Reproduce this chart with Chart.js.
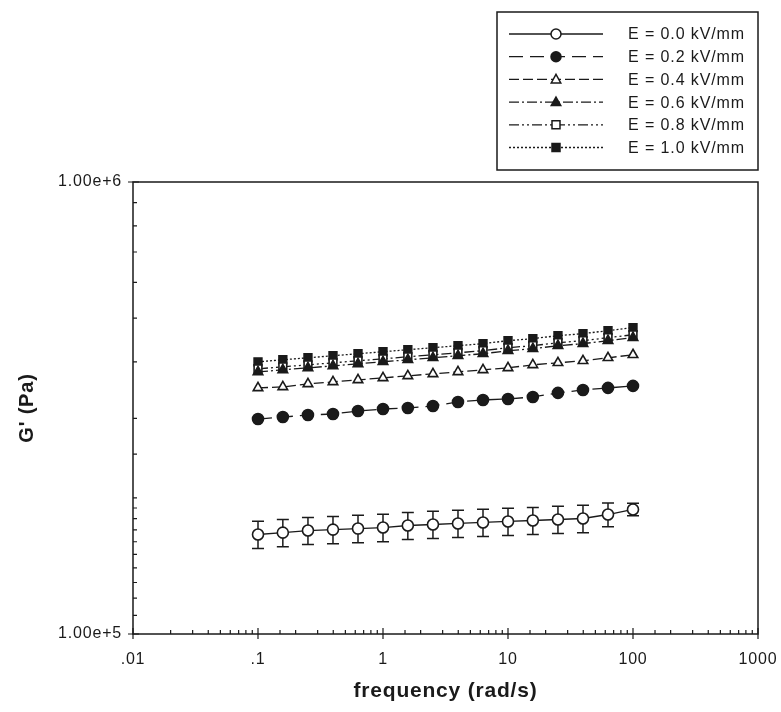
<!DOCTYPE html>
<html>
<head>
<meta charset="utf-8">
<script src="https://cdn.jsdelivr.net/npm/chart.js"></script>
<style>
  html, body { margin: 0; padding: 0; background: #fff; }
  #wrap { width: 781px; height: 712px; }
</style>
</head>
<body>
<div id="wrap"><canvas id="chart" width="781" height="712"></canvas></div>
<script>
// frequency (rad/s)
const freq = [0.1, 0.158, 0.251, 0.398, 0.631, 1, 1.58, 2.51, 3.98, 6.31, 10, 15.8, 25.1, 39.8, 63.1, 100];

// G' (Pa) per field strength
const gE00 = [166000, 167600, 169400, 170200, 171100, 172000, 173800, 174700, 175600, 176500, 177400, 178300, 179200, 180100, 183800, 188600];
const gE00err = [11500, 11600, 11700, 11800, 11900, 12000, 12000, 12100, 12200, 12200, 12300, 12300, 12400, 12500, 11000, 6000];
const gE02 = [298900, 302000, 305100, 306700, 311400, 314600, 316200, 319500, 326100, 329500, 331100, 334500, 341500, 346700, 350300, 353900];
const gE04 = [350300, 352100, 357500, 361200, 364900, 368700, 372500, 376300, 380200, 384100, 388000, 394000, 398100, 402200, 408400, 414800];
const gE06 = [380200, 384100, 388000, 392000, 396000, 400100, 404300, 408400, 412700, 416900, 423400, 427700, 434400, 438800, 445600, 452500];
const gE08 = [386100, 390000, 394000, 398100, 402200, 406300, 410500, 414800, 419000, 423400, 429900, 434400, 441000, 445600, 452500, 459300];
const gE10 = [400100, 404300, 408400, 412700, 416900, 421200, 425600, 429900, 434400, 438800, 445600, 450200, 457100, 461800, 469000, 476200];

const seriesLabels = ["E = 0.0 kV/mm", "E = 0.2 kV/mm", "E = 0.4 kV/mm", "E = 0.6 kV/mm", "E = 0.8 kV/mm", "E = 1.0 kV/mm"];
const xTickLabels = { "0.01": ".01", "0.1": ".1", "1": "1", "10": "10", "100": "100", "1000": "1000" };
const yTickLabels = { "100000": "1.00e+5", "1000000": "1.00e+6" };

const INK = "#1a1a1a";
const FONT = "'Liberation Sans', Arial, sans-serif";

function pts(ys) { return freq.map((f, i) => ({ x: f, y: ys[i] })); }

function isDecade(v) {
  const l = Math.log10(v);
  return Math.abs(l - Math.round(l)) < 1e-6;
}

const styles = [
  { pointStyle: "circle", fill: false, dash: [] },
  { pointStyle: "circle", fill: true, dash: [14, 7] },
  { pointStyle: "triangle", fill: false, dash: [10, 4] },
  { pointStyle: "triangle", fill: true, dash: [10, 3, 2, 3] },
  { pointStyle: "rect", fill: false, dash: [10, 3, 2, 3, 2, 3] },
  { pointStyle: "rect", fill: true, dash: [2, 2] }
];
const allSeries = [gE00, gE02, gE04, gE06, gE08, gE10];

const datasets = allSeries.map((ys, i) => ({
  label: seriesLabels[i],
  data: pts(ys),
  borderColor: INK,
  borderWidth: 1.3,
  borderDash: styles[i].dash,
  pointStyle: styles[i].pointStyle,
  pointRadius: 5.5,
  pointBorderWidth: 1.6,
  pointBorderColor: INK,
  pointBackgroundColor: styles[i].fill ? INK : "#fff",
  errors: i === 0 ? gE00err : null,
  tension: 0
}));

function drawMarker(ctx, style, filled, x, y, r) {
  ctx.save();
  ctx.setLineDash([]);
  ctx.lineWidth = 1.5;
  ctx.strokeStyle = INK;
  ctx.fillStyle = filled ? INK : "#fff";
  ctx.beginPath();
  if (style === "circle") {
    ctx.arc(x, y, r, 0, Math.PI * 2);
  } else if (style === "triangle") {
    ctx.moveTo(x, y - r);
    ctx.lineTo(x + r * 0.95, y + r * 0.7);
    ctx.lineTo(x - r * 0.95, y + r * 0.7);
    ctx.closePath();
  } else {
    ctx.rect(x - r * 0.8, y - r * 0.8, r * 1.6, r * 1.6);
  }
  ctx.fill();
  ctx.stroke();
  ctx.restore();
}

// slightly wider letter spacing, like the scanned original
const spacing = {
  id: "spacing",
  beforeDraw(chart) { chart.ctx.letterSpacing = "0.8px"; }
};

// error bars for the 0 kV/mm series
const errorBars = {
  id: "errorBars",
  beforeDatasetsDraw(chart) {
    const ctx = chart.ctx;
    const xs = chart.scales.x, ys = chart.scales.y;
    chart.data.datasets.forEach((ds) => {
      if (!ds.errors) return;
      ctx.save();
      ctx.strokeStyle = INK;
      ctx.lineWidth = 1.5;
      ds.data.forEach((p, i) => {
        const e = ds.errors[i];
        const px = xs.getPixelForValue(p.x);
        const top = ys.getPixelForValue(p.y + e);
        const bot = ys.getPixelForValue(p.y - e);
        ctx.beginPath();
        ctx.moveTo(px, top); ctx.lineTo(px, bot);
        ctx.moveTo(px - 6, top); ctx.lineTo(px + 6, top);
        ctx.moveTo(px - 6, bot); ctx.lineTo(px + 6, bot);
        ctx.stroke();
      });
      ctx.restore();
    });
  }
};

// frame and inward ticks
const frame = {
  id: "frame",
  afterDraw(chart) {
    const ctx = chart.ctx;
    const a = chart.chartArea;
    const xs = chart.scales.x, ys = chart.scales.y;
    ctx.save();
    ctx.strokeStyle = INK;
    ctx.lineWidth = 1.5;
    ctx.strokeRect(a.left, a.top, a.right - a.left, a.bottom - a.top);
    ctx.lineWidth = 1.2;
    ctx.beginPath();
    xs.ticks.forEach((t) => {
      const px = xs.getPixelForValue(t.value);
      if (isDecade(t.value)) {
        ctx.moveTo(px, a.bottom - 6); ctx.lineTo(px, a.bottom + 5);
      } else {
        ctx.moveTo(px, a.bottom); ctx.lineTo(px, a.bottom - 4);
      }
    });
    ys.ticks.forEach((t) => {
      const py = ys.getPixelForValue(t.value);
      if (isDecade(t.value)) {
        ctx.moveTo(a.left - 5, py); ctx.lineTo(a.left + 6, py);
      } else {
        ctx.moveTo(a.left, py); ctx.lineTo(a.left + 4, py);
      }
    });
    ctx.stroke();
    ctx.restore();
  }
};

// boxed legend with line sample + marker
const legendBox = {
  id: "legendBox",
  afterDraw(chart) {
    const ctx = chart.ctx;
    ctx.save();
    ctx.strokeStyle = INK;
    ctx.lineWidth = 1.5;
    ctx.strokeRect(497, 12, 261, 158);
    chart.data.datasets.forEach((ds, i) => {
      const y = 34 + i * 22.7;
      ctx.save();
      ctx.lineWidth = 1.3;
      ctx.setLineDash(ds.borderDash);
      ctx.beginPath();
      ctx.moveTo(509, y); ctx.lineTo(603, y);
      ctx.stroke();
      ctx.restore();
      drawMarker(ctx, styles[i].pointStyle, styles[i].fill, 556, y, 5);
      ctx.fillStyle = INK;
      ctx.font = "16px " + FONT;
      ctx.letterSpacing = "0.9px";
      ctx.textBaseline = "middle";
      ctx.textAlign = "left";
      ctx.fillText(ds.label, 628, y + 1);
    });
    ctx.restore();
  }
};

new Chart(document.getElementById("chart"), {
  type: "line",
  data: { datasets },
  options: {
    responsive: false,
    devicePixelRatio: 1,
    animation: false,
    layout: { padding: { top: 182, right: 23, bottom: 0, left: 0 } },
    plugins: { legend: { display: false }, tooltip: { enabled: false } },
    scales: {
      x: {
        type: "logarithmic",
        min: 0.01,
        max: 1000,
        grid: { display: false, drawTicks: false },
        border: { display: false },
        afterFit: (s) => { s.height = 78; s.paddingLeft = 0; s.paddingRight = 0; },
        ticks: {
          autoSkip: false,
          maxRotation: 0,
          padding: 16,
          color: INK,
          font: { family: FONT, size: 16 },
          callback: (v) => xTickLabels[String(+v.toPrecision(6))] || ""
        },
        title: {
          display: true,
          text: "frequency (rad/s)",
          color: INK,
          font: { family: FONT, size: 21, weight: "bold" },
          padding: { top: 0, bottom: 8 }
        }
      },
      y: {
        type: "logarithmic",
        min: 100000,
        max: 1000000,
        grid: { display: false, drawTicks: false },
        border: { display: false },
        afterFit: (s) => { s.width = 133; },
        ticks: {
          autoSkip: false,
          padding: 11,
          color: INK,
          font: { family: FONT, size: 16 },
          callback: (v) => yTickLabels[String(Math.round(v))] || ""
        },
        title: {
          display: true,
          text: "G' (Pa)",
          color: INK,
          font: { family: FONT, size: 20, weight: "bold" },
          padding: { top: 15, bottom: 0 }
        }
      }
    }
  },
  plugins: [spacing, errorBars, frame, legendBox]
});
</script>
</body>
</html>
